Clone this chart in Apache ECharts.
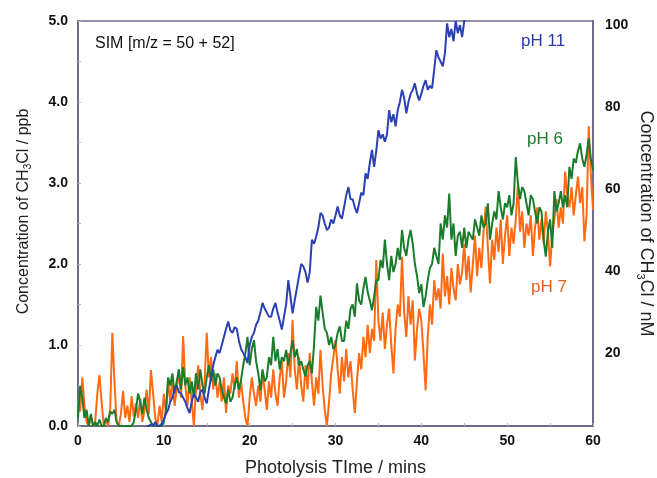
<!DOCTYPE html>
<html>
<head>
<meta charset="utf-8">
<script src="https://cdn.jsdelivr.net/npm/echarts@6/dist/echarts.min.js"></script>
<style>html,body{margin:0;padding:0;background:#fff;}#c{width:657px;height:478px;}</style>
</head>
<body>
<div id="c"></div>
<script>
// Sampling: values every 0.25 min
const STEP = 0.25;
const ph7Start = 0;
const ph7 = [
0.30,0.18,0.60,0.25, 0.05,0.00,0.12,0.00, 0.05,0.40,0.63,0.30, 0.00,0.08,0.00,0.20,
1.15,0.55,0.05,0.00, 0.15,0.43,0.10,0.25, 0.05,0.37,0.12,0.28, 0.10,0.34,0.05,0.20,
0.45,0.15,0.69,0.40, 0.10,0.00,0.25,0.05, 0.40,0.15,0.55,0.30, 0.60,0.25,0.45,0.70,
0.35,1.11,0.50,0.25, 0.60,0.30,0.00,0.45, 0.75,0.40,0.20,0.55, 1.15,0.60,0.85,0.45,
0.65,0.35,0.55,0.30, 0.60,0.16,0.50,0.40, 0.65,0.45,0.80,0.35, 0.55,0.30,0.10,0.00,
0.35,0.60,0.40,0.25, 0.50,0.30,0.65,0.45, 0.20,0.55,0.35,0.70, 0.40,0.25,0.60,0.80,
0.35,0.55,0.90,0.60, 1.31,0.70,0.45,0.85, 0.50,0.30,0.75,0.45, 0.90,0.55,0.25,0.60,
0.40,0.94,0.50,0.20, 0.00,0.30,0.65,0.85, 1.06,0.70,0.40,0.85, 0.55,0.95,0.60,0.80,
0.45,0.16,0.55,0.90, 0.70,1.10,0.85,1.25, 0.90,1.20,1.05,2.05, 1.30,1.05,1.40,0.95,
1.25,1.45,1.00,0.65, 1.20,1.50,1.35,2.09, 1.40,1.10,1.60,1.25, 1.55,0.81,1.20,1.45,
1.30,0.90,0.44,1.10, 1.50,1.25,1.80,1.55, 1.70,1.45,2.13,1.60, 1.85,1.50,1.95,1.70,
1.55,2.00,1.75,1.90, 2.25,1.80,2.10,1.65, 2.00,2.35,1.85,2.20, 1.95,2.40,2.71,2.20,
1.76,2.30,2.05,2.45, 2.15,2.55,2.00,2.35, 2.60,2.10,2.45,2.25, 2.55,2.98,2.40,2.65,
2.20,2.50,2.35,2.60, 2.10,2.45,2.70,2.30, 2.55,2.25,2.65,2.40, 1.97,2.35,2.55,2.80,
2.45,2.70,2.50,3.14, 2.85,2.70,2.95,2.60, 2.85,3.08,2.75,2.95, 2.28,2.60,3.70,3.10,
2.67
];
const ph6Start = 0;
const ph6 = [
0.10,0.49,0.35,0.10, 0.20,0.00,0.15,0.00, 0.05,0.00,0.08,0.00, 0.00,0.10,0.05,0.18,
0.15,0.20,0.05,0.00, 0.00,0.00,0.00,0.00, 0.00,0.00,0.05,0.20, 0.40,0.30,0.15,0.35,
0.20,0.10,0.05,0.00, 0.00,0.00,0.00,0.00, 0.05,0.20,0.60,0.50, 0.65,0.40,0.55,0.70,
0.45,0.73,0.50,0.60, 0.40,0.55,0.35,0.65, 0.45,0.70,0.50,0.40, 0.60,0.75,0.55,0.70,
0.50,0.65,0.60,0.45, 0.35,0.28,0.45,0.30, 0.35,0.50,0.60,0.45, 0.57,0.75,0.90,1.10,
0.75,0.95,1.06,0.80, 0.65,0.44,0.70,0.55, 0.60,0.85,0.75,1.10, 0.80,0.95,0.70,0.85,
0.80,0.94,0.75,0.90, 1.06,0.85,0.95,0.75, 0.80,0.70,0.61,0.75, 0.80,0.65,1.00,1.47,
1.30,1.61,1.40,1.20, 1.15,1.00,1.10,0.95, 1.00,1.15,1.23,1.05, 1.05,1.30,1.20,1.45,
1.50,1.35,1.76,1.55, 1.50,1.70,1.84,1.65, 1.55,1.43,1.60,1.80, 1.80,2.05,1.95,2.30,
2.00,1.80,2.10,1.90, 2.00,2.20,2.05,2.42, 2.20,2.10,2.30,2.42, 2.25,2.00,1.85,1.64,
1.75,1.47,1.60,1.80, 1.95,2.00,2.20,2.10, 2.00,2.50,2.30,2.60, 2.45,2.87,2.30,2.50,
2.10,2.35,2.40,2.20, 2.45,2.20,2.40,2.35, 2.30,2.55,2.45,2.35, 2.60,2.45,2.50,2.75,
2.30,2.50,2.65,2.55, 2.90,2.70,2.55,2.75, 2.70,2.85,2.60,2.75, 3.32,3.00,2.80,2.95,
2.90,2.75,2.60,2.85, 2.80,2.65,2.50,2.70, 2.65,2.30,2.09,2.40, 2.55,2.20,2.90,2.65,
2.75,2.90,2.70,2.85, 2.70,3.20,3.05,3.30, 3.25,3.40,3.49,3.30, 3.20,3.35,3.55,3.30,
3.16
];
const ph11Start = 8;
const ph11 = [
0.00,0.00,0.02,0.00, 0.05,0.00,0.00,0.03, 0.08,0.15,0.20,0.30, 0.35,0.45,0.50,0.42,
0.40,0.35,0.30,0.22, 0.16,0.30,0.40,0.35, 0.30,0.42,0.45,0.35, 0.28,0.45,0.60,0.75,
0.85,0.94,0.90,1.00, 1.10,1.20,1.29,1.18, 1.15,1.22,1.20,1.05, 0.95,0.90,0.85,0.78,
1.00,1.10,1.15,1.25, 1.30,1.40,1.52,1.45, 1.40,1.35,1.35,1.45, 1.52,1.40,1.30,1.19,
1.35,1.50,1.80,1.60, 1.39,1.55,1.70,1.85, 2.00,1.97,1.90,1.77, 1.90,2.30,2.25,2.34,
2.45,2.63,2.60,2.50, 2.42,2.45,2.55,2.50, 2.60,2.71,2.60,2.56, 2.70,2.85,2.95,2.80,
2.80,2.70,2.63,2.75, 2.88,2.85,3.12,3.05, 3.25,3.41,3.20,3.40, 3.65,3.55,3.60,3.51,
3.60,3.90,3.75,3.85, 3.70,3.90,4.00,4.15, 4.05,3.86,4.00,4.10, 4.15,4.23,4.10,4.02,
4.10,4.20,4.27,4.15, 4.20,4.17,4.40,4.64, 4.55,4.50,4.44,4.60, 4.97,4.80,4.90,4.75,
5.00,4.85,4.95,4.80, 5.00,5.10,5.20
];
const xTicks = [0,10,20,30,40,50,60];
const leftTicks = [0,1,2,3,4,5];
const rightTicks = [20,40,60,80,100];
const seriesNames = ['pH 11','pH 6','pH 7'];

function pairs(start, vals){ return vals.map((v,i)=>[start + i*STEP, v]); }

const chart = echarts.init(document.getElementById('c'), null, {renderer:'canvas'});
const AX = '#6c6c8e';
const FONT = 'Liberation Sans, Arial, sans-serif';
const TICKFONT = 'Liberation Sans Narrow, Liberation Sans, Arial, sans-serif';
function rich(size){
  return {
    n:{fontSize:size,color:'#222',fontFamily:FONT},
    s:{fontSize:Math.round(size*0.62),color:'#222',fontFamily:FONT,padding:[Math.round(size*0.58),0,0,0]}
  };
}
chart.setOption({
  animation:false,
  grid:{left:78,right:64,top:21,bottom:52,show:true,borderColor:AX,borderWidth:1.5,
        containLabel:false,outerBoundsMode:'none'},
  xAxis:{type:'value',min:0,max:60,interval:10,
    name:'Photolysis TIme / mins',nameLocation:'middle',nameGap:33,
    nameTextStyle:{fontSize:18,color:'#222',fontFamily:FONT},
    axisLine:{lineStyle:{color:AX,width:2}},
    axisTick:{show:true,inside:true,length:3,lineStyle:{color:'#bbb'}},
    minorTick:{show:true,splitNumber:2,length:3,lineStyle:{color:'#bbb'}},
    splitLine:{show:false},
    axisLabel:{customValues:xTicks,color:'#111',fontWeight:'bold',fontSize:14,margin:8,fontFamily:TICKFONT}
  },
  yAxis:[
    {type:'value',min:0,max:5,interval:1,position:'left',
     name:'{n|Concentration of CH}{s|3}{n|Cl / ppb}',nameLocation:'middle',nameGap:45,nameRotate:90,
     nameTextStyle:{rich:rich(16),padding:[0,0,0,24]},
     axisLine:{show:true,lineStyle:{color:AX,width:2}},
     axisTick:{show:true,inside:true,length:3,lineStyle:{color:'#bbb'}},
     minorTick:{show:true,splitNumber:2,length:3,lineStyle:{color:'#bbb'}},
     splitLine:{show:false},
     axisLabel:{customValues:leftTicks,formatter:v=>v.toFixed(1),color:'#111',fontWeight:'bold',fontSize:14,margin:10,fontFamily:TICKFONT}
    },
    {type:'value',min:2.2,max:101,position:'right',
     name:'{n|Concentration of CH}{s|3}{n|Cl / nM}',nameLocation:'middle',nameGap:42,nameRotate:-90,
     nameMoveOverlap:false,
     nameTextStyle:{rich:rich(18)},
     axisLine:{show:true,lineStyle:{color:AX,width:2}},
     axisTick:{show:false},
     splitLine:{show:false},
     axisLabel:{customValues:rightTicks,color:'#111',fontWeight:'bold',fontSize:14,margin:12,fontFamily:TICKFONT}
    }
  ],
  series:[
    {name:seriesNames[0],type:'line',data:pairs(ph11Start,ph11),showSymbol:false,clip:true,
     lineStyle:{color:'#2a40b4',width:2},itemStyle:{color:'#2a40b4'},z:3},
    {name:seriesNames[2],type:'line',data:pairs(ph7Start,ph7),showSymbol:false,clip:true,
     lineStyle:{color:'#ff6a13',width:2},itemStyle:{color:'#ff6a13'},z:1},
    {name:seriesNames[1],type:'line',data:pairs(ph6Start,ph6),showSymbol:false,clip:true,
     lineStyle:{color:'#1b7d2c',width:2},itemStyle:{color:'#1b7d2c'},z:2}
  ],
  graphic:[
    {type:'text',left:95,top:36,style:{text:'SIM [m/z = 50 + 52]',fontSize:16,fill:'#111',fontFamily:FONT}},
    {type:'text',left:521,top:33,style:{text:seriesNames[0],fontSize:17,fill:'#2a3aa6',fontFamily:FONT}},
    {type:'text',left:527,top:131,style:{text:seriesNames[1],fontSize:17,fill:'#1f7a30',fontFamily:FONT}},
    {type:'text',left:531,top:279,style:{text:seriesNames[2],fontSize:17,fill:'#e2621c',fontFamily:FONT}}
  ]
});
</script>
</body>
</html>
